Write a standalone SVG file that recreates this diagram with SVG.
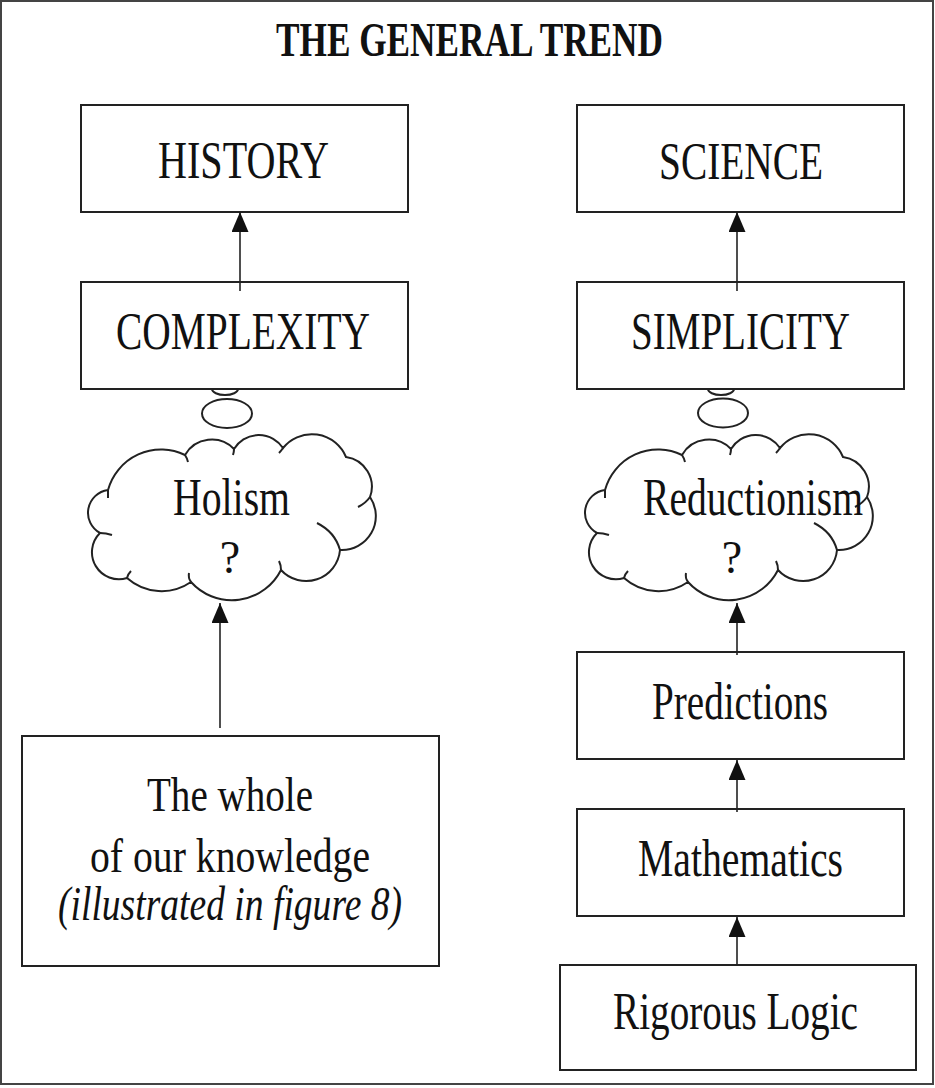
<svg xmlns="http://www.w3.org/2000/svg" xmlns:xlink="http://www.w3.org/1999/xlink" width="935" height="1088" viewBox="0 0 935 1088">
<style>
.box{fill:#fff;stroke:#222;stroke-width:2}
.lbl{font-family:"Liberation Serif","Times New Roman",serif;font-size:52px;fill:#111;text-anchor:middle}
.sm{font-size:48px}
.conn{stroke:#222;stroke-width:1.6;fill:none}
.cloud{fill:#fff;stroke:#222;stroke-width:2}
.hook{fill:none;stroke:#222;stroke-width:2}
.bub{fill:#fff;stroke:#222;stroke-width:2}
</style>
<defs>
<marker id="ah" viewBox="0 0 20 17" refX="20" refY="8.5" markerWidth="20" markerHeight="17" markerUnits="userSpaceOnUse" orient="auto">
<path d="M0,0 L20,8.5 L0,17 z" fill="#111"/>
</marker>
<g id="cloudshape">
<path class="cloud" d="M 108 490 A 55 55 0 0 1 185 455 A 31 31 0 0 1 234 449 A 29 29 0 0 1 283 448 A 37 37 0 0 1 346 457 A 30 30 0 0 1 370 497 A 34 34 0 0 1 340 550 A 34 34 0 0 1 281 570 A 55 55 0 0 1 191 582 A 52 52 0 0 1 127 578 A 27 27 0 0 1 100 533 A 23 23 0 0 1 108 490 Z"/>
<path class="hook" d="M 185 455 Q 187 458 188 462"/>
<path class="hook" d="M 234 449 Q 234 452 233 455"/>
<path class="hook" d="M 283 448 Q 281 451 279 453"/>
<path class="hook" d="M 370 497 Q 366 503 358 507"/>
<path class="hook" d="M 317 523 Q 335 532 340 550"/>
<path class="hook" d="M 281 570 Q 281 565 279 561"/>
<path class="hook" d="M 191 582 Q 188 578 189 573"/>
<path class="hook" d="M 127 578 Q 128 574 131 571"/>
<path class="hook" d="M 100 533 Q 106 533 112 535"/>
<path class="hook" d="M 108 490 Q 108 494 108 498"/>
</g>
</defs>
<rect x="1" y="1" width="932" height="1083" fill="#fff" stroke="#444" stroke-width="2"/>
<text x="469.5" y="56" class="lbl" style="font-weight:bold;font-size:48px" textLength="387" lengthAdjust="spacingAndGlyphs">THE GENERAL TREND</text>

<g id="bubble-left">
<ellipse class="bub" cx="225" cy="389" rx="13" ry="6"/>
<ellipse class="bub" cx="227" cy="413.5" rx="25" ry="14.5"/>
</g>
<g id="bubble-right">
<ellipse class="bub" cx="721" cy="389" rx="13" ry="6"/>
<ellipse class="bub" cx="723" cy="413" rx="25" ry="14.5"/>
</g>

<g id="history">
<rect class="box" x="81" y="105" width="327" height="107"/>
<text x="243.5" y="178" class="lbl" textLength="171" lengthAdjust="spacingAndGlyphs">HISTORY</text>
</g>
<g id="science">
<rect class="box" x="577" y="105" width="327" height="107"/>
<text x="741" y="179" class="lbl" textLength="164" lengthAdjust="spacingAndGlyphs">SCIENCE</text>
</g>
<g id="complexity">
<rect class="box" x="81" y="282" width="327" height="107"/>
<text x="243" y="349" class="lbl" textLength="254" lengthAdjust="spacingAndGlyphs">COMPLEXITY</text>
</g>
<g id="simplicity">
<rect class="box" x="577" y="282" width="327" height="107"/>
<text x="740.5" y="349" class="lbl" textLength="219" lengthAdjust="spacingAndGlyphs">SIMPLICITY</text>
</g>

<g id="holism">
<use xlink:href="#cloudshape" href="#cloudshape"/>
<text x="231.5" y="515" class="lbl" textLength="117" lengthAdjust="spacingAndGlyphs">Holism</text>
<text x="230" y="573" class="lbl" style="font-size:46px">?</text>
</g>
<g id="reductionism">
<use xlink:href="#cloudshape" href="#cloudshape" transform="translate(497,0)"/>
<text x="753" y="515" class="lbl" textLength="220" lengthAdjust="spacingAndGlyphs">Reductionism</text>
<text x="732" y="573" class="lbl" style="font-size:46px">?</text>
</g>

<g id="knowledge">
<rect class="box" x="22" y="736" width="417" height="230"/>
<text x="230" y="811" class="lbl sm" textLength="166" lengthAdjust="spacingAndGlyphs">The whole</text>
<text x="230" y="872" class="lbl sm" textLength="280" lengthAdjust="spacingAndGlyphs">of our knowledge</text>
<text x="230" y="920" class="lbl sm" style="font-style:italic" textLength="344" lengthAdjust="spacingAndGlyphs">(illustrated in figure 8)</text>
</g>
<g id="predictions">
<rect class="box" x="577" y="652" width="327" height="107"/>
<text x="740" y="719" class="lbl" textLength="176" lengthAdjust="spacingAndGlyphs">Predictions</text>
</g>
<g id="mathematics">
<rect class="box" x="577" y="809" width="327" height="107"/>
<text x="740.5" y="876" class="lbl" textLength="205" lengthAdjust="spacingAndGlyphs">Mathematics</text>
</g>
<g id="logic">
<rect class="box" x="560" y="965" width="356" height="105"/>
<text x="735.5" y="1029" class="lbl" textLength="245" lengthAdjust="spacingAndGlyphs">Rigorous Logic</text>
</g>

<g id="connectors">
<line class="conn" x1="240" y1="291" x2="240" y2="212" marker-end="url(#ah)"/>
<line class="conn" x1="737" y1="291" x2="737" y2="212" marker-end="url(#ah)"/>
<line class="conn" x1="220" y1="728" x2="220" y2="603" marker-end="url(#ah)"/>
<line class="conn" x1="737" y1="655" x2="737" y2="603" marker-end="url(#ah)"/>
<line class="conn" x1="737" y1="812" x2="737" y2="760" marker-end="url(#ah)"/>
<line class="conn" x1="737" y1="965" x2="737" y2="917" marker-end="url(#ah)"/>
</g>
</svg>
